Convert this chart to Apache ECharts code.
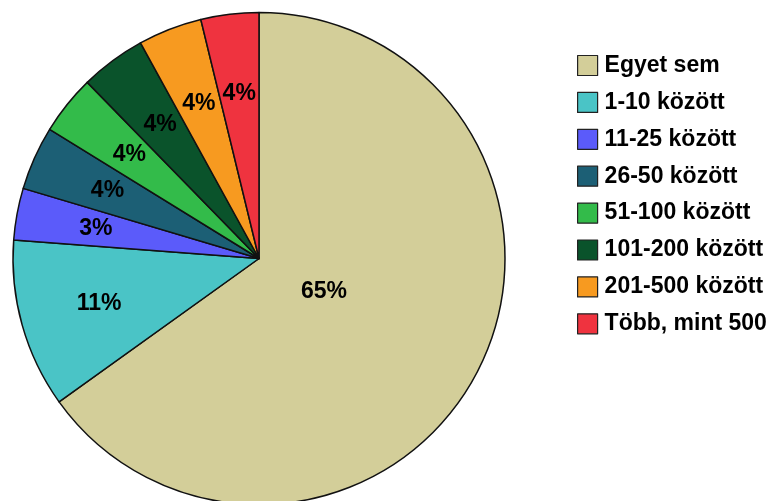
<!DOCTYPE html>
<html>
<head>
<meta charset="utf-8">
<script src="https://cdn.jsdelivr.net/npm/echarts@6/dist/echarts.min.js"></script>
<style>html,body{margin:0;padding:0;background:#fff}#c{width:780px;height:501px}</style>
</head>
<body>
<div id="c"></div>
<script>
var categories = ['Egyet sem', '1-10 között', '11-25 között', '26-50 között', '51-100 között', '101-200 között', '201-500 között', 'Több, mint 500'];
var values = [65.1, 11.1, 3.4, 4.2, 3.9, 4.3, 4.2, 3.8];
var colors = ['#D3CE99', '#4AC4C6', '#5B5BFA', '#1C5F75', '#33BB4A', '#0A532B', '#F79A20', '#EF333F'];

var FONT = '"Liberation Sans", Arial, sans-serif';
var chart = echarts.init(document.getElementById('c'));

function mainData() {
  return categories.map(function (n, i) {
    return { name: n, value: values[i], itemStyle: { color: colors[i] } };
  });
}
function labelData(onlyFirst) {
  return categories.map(function (n, i) {
    var show = onlyFirst ? i === 0 : i !== 0;
    return { name: n, value: values[i], label: { show: show } };
  });
}
var labelStyle = {
  position: 'inside',
  color: '#000',
  fontFamily: FONT,
  fontWeight: 'bold',
  fontSize: 23,
  formatter: function (p) { return Math.round(p.percent) + '%'; }
};

chart.setOption({
  animation: false,
  legend: {
    orient: 'vertical',
    left: 572,
    top: 49,
    itemWidth: 20,
    itemHeight: 20,
    itemGap: 13.9,
    icon: 'rect',
    data: categories,
    selectedMode: false,
    itemStyle: { borderColor: '#222', borderWidth: 1.2 },
    textStyle: { color: '#000', fontFamily: FONT, fontWeight: 'bold', fontSize: 23, lineHeight: 20, padding: [0, 0, 0, 2] }
  },
  series: [
    {
      type: 'pie',
      center: [259, 258.5],
      radius: [0, 246],
      startAngle: 90,
      clockwise: true,
      silent: true,
      label: { show: false },
      labelLine: { show: false },
      itemStyle: { borderColor: '#111', borderWidth: 1.5 },
      data: mainData()
    },
    {
      type: 'pie',
      center: [259, 258.5],
      radius: [0, 326],
      startAngle: 90,
      silent: true,
      legendHoverLink: false,
      itemStyle: { color: 'rgba(0,0,0,0)', borderWidth: 0 },
      label: labelStyle,
      labelLine: { show: false },
      data: labelData(false)
    },
    {
      type: 'pie',
      center: [259, 258.5],
      radius: [0, 140],
      startAngle: 90,
      silent: true,
      legendHoverLink: false,
      itemStyle: { color: 'rgba(0,0,0,0)', borderWidth: 0 },
      label: labelStyle,
      labelLine: { show: false },
      data: labelData(true)
    }
  ]
});
</script>
</body>
</html>
